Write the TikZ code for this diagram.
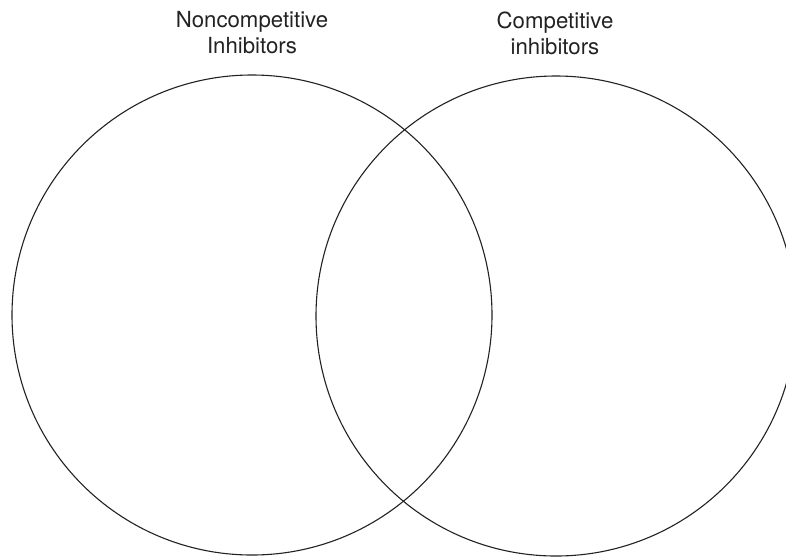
\documentclass[tikz,border=0pt]{standalone}
\usepackage{fontspec}
\setmainfont{TeX Gyre Heros}
\definecolor{inkgray}{HTML}{222222}

\begin{document}
\begin{tikzpicture}[x=1pt, y=-1pt, line width=1.1pt, draw=inkgray,
    setlabel/.style={text=inkgray, align=center, font=\fontsize{22.2}{26}\selectfont}]
    \useasboundingbox (0,0) rectangle (786,558);
    \def\setradius{240}

    \coordinate (nonc) at (252,315);
    \coordinate (comp) at (556,316);

    \draw[inkgray] (nonc) circle[radius=\setradius];
    \draw[inkgray] (comp) circle[radius=\setradius];

    \node[setlabel] (nonclabel) at (252,33) {Noncompetitive\\Inhibitors};
    \node[setlabel] (complabel) at (555,33) {Competitive\\inhibitors};

\end{tikzpicture}
\end{document}
